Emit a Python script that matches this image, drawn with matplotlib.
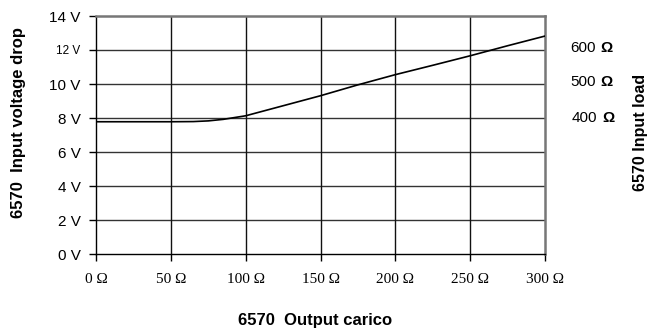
import matplotlib
matplotlib.use("Agg")
import matplotlib.pyplot as plt
from matplotlib.ticker import FixedLocator

# Data
load_ohm = [0, 25, 50, 65, 75, 85, 95, 100, 125, 150, 175, 200, 225, 250, 275, 300]
voltage = [7.78, 7.78, 7.78, 7.79, 7.83, 7.92, 8.06, 8.13, 8.72, 9.31, 9.95, 10.55, 11.1, 11.66, 12.25, 12.82]
x_ticks = [0, 50, 100, 150, 200, 250, 300]
x_tick_labels = ["0 Ω", "50 Ω", "100 Ω", "150 Ω", "200 Ω", "250 Ω", "300 Ω"]
y_ticks = [0, 2, 4, 6, 8, 10, 12, 14]
y_tick_labels = ["0 V", "2 V", "4 V", "6 V", "8 V", "10 V", "12 V", "14 V"]
input_load_labels = ["600", "500", "400"]
input_load_levels = [12.1, 10.1, 8.0]

W, H = 651, 331
fig = plt.figure(figsize=(W / 100, H / 100), dpi=100)
ax = fig.add_axes([96 / W, 1 - 254 / H, (545 - 96) / W, (254 - 16) / H])

ax.set_xlim(0, 300)
ax.set_ylim(0, 14)

# grid
for yv in y_ticks[1:-1]:
    ax.axhline(yv, color="#333333", lw=1.0, zorder=1)
for xv in x_ticks[1:-1]:
    ax.axvline(xv, color="#111111", lw=1.0, zorder=1)

ax.plot(load_ohm, voltage, color="black", lw=1.2, zorder=3)

for s in ["left", "bottom"]:
    ax.spines[s].set_color("black")
    ax.spines[s].set_linewidth(1.0)
ax.spines["top"].set_color("#777777")
ax.spines["top"].set_linewidth(1.8)
ax.spines["right"].set_color("#777777")
ax.spines["right"].set_linewidth(1.8)

ax.xaxis.set_major_locator(FixedLocator(x_ticks))
ax.yaxis.set_major_locator(FixedLocator(y_ticks))
ax.set_xticklabels(x_tick_labels, family="Liberation Serif", fontsize=11)
ax.set_yticklabels(y_tick_labels, family="Liberation Sans", fontsize=11)
for lbl in ax.get_yticklabels():
    if lbl.get_text() == "12 V":
        lbl.set_fontsize(8.5)
ax.tick_params(axis="x", direction="out", length=5, width=1, pad=9, colors="black")
ax.tick_params(axis="y", direction="out", length=5, width=1, pad=6, colors="black")

fig.text(19 / W, 1 - 122 / H, "6570  Input voltage drop", family="Liberation Sans",
         fontweight="bold", fontsize=12, rotation=90, ha="center", va="center")
fig.text(315 / W, 1 - 320 / H, "6570  Output carico", family="Liberation Sans",
         fontweight="bold", fontsize=12, ha="center", va="center")

# right side labels
for lab, lev in zip(input_load_labels, input_load_levels):
    xoff = 570 if lab != "400" else 572
    ytrans = ax.transData.transform((0, lev))[1]
    fig.text(xoff / W, ytrans / H, lab, family="Liberation Sans", fontsize=11,
             ha="left", va="center")
    fig.text((xoff + 30) / W, ytrans / H, "Ω", family="Liberation Sans", fontsize=11,
             fontweight="bold", ha="left", va="center")
fig.text(641 / W, 1 - 132 / H, "6570 Input load", family="Liberation Sans",
         fontweight="bold", fontsize=11.5, rotation=90, ha="center", va="center")

fig.savefig("out.png", dpi=100)
